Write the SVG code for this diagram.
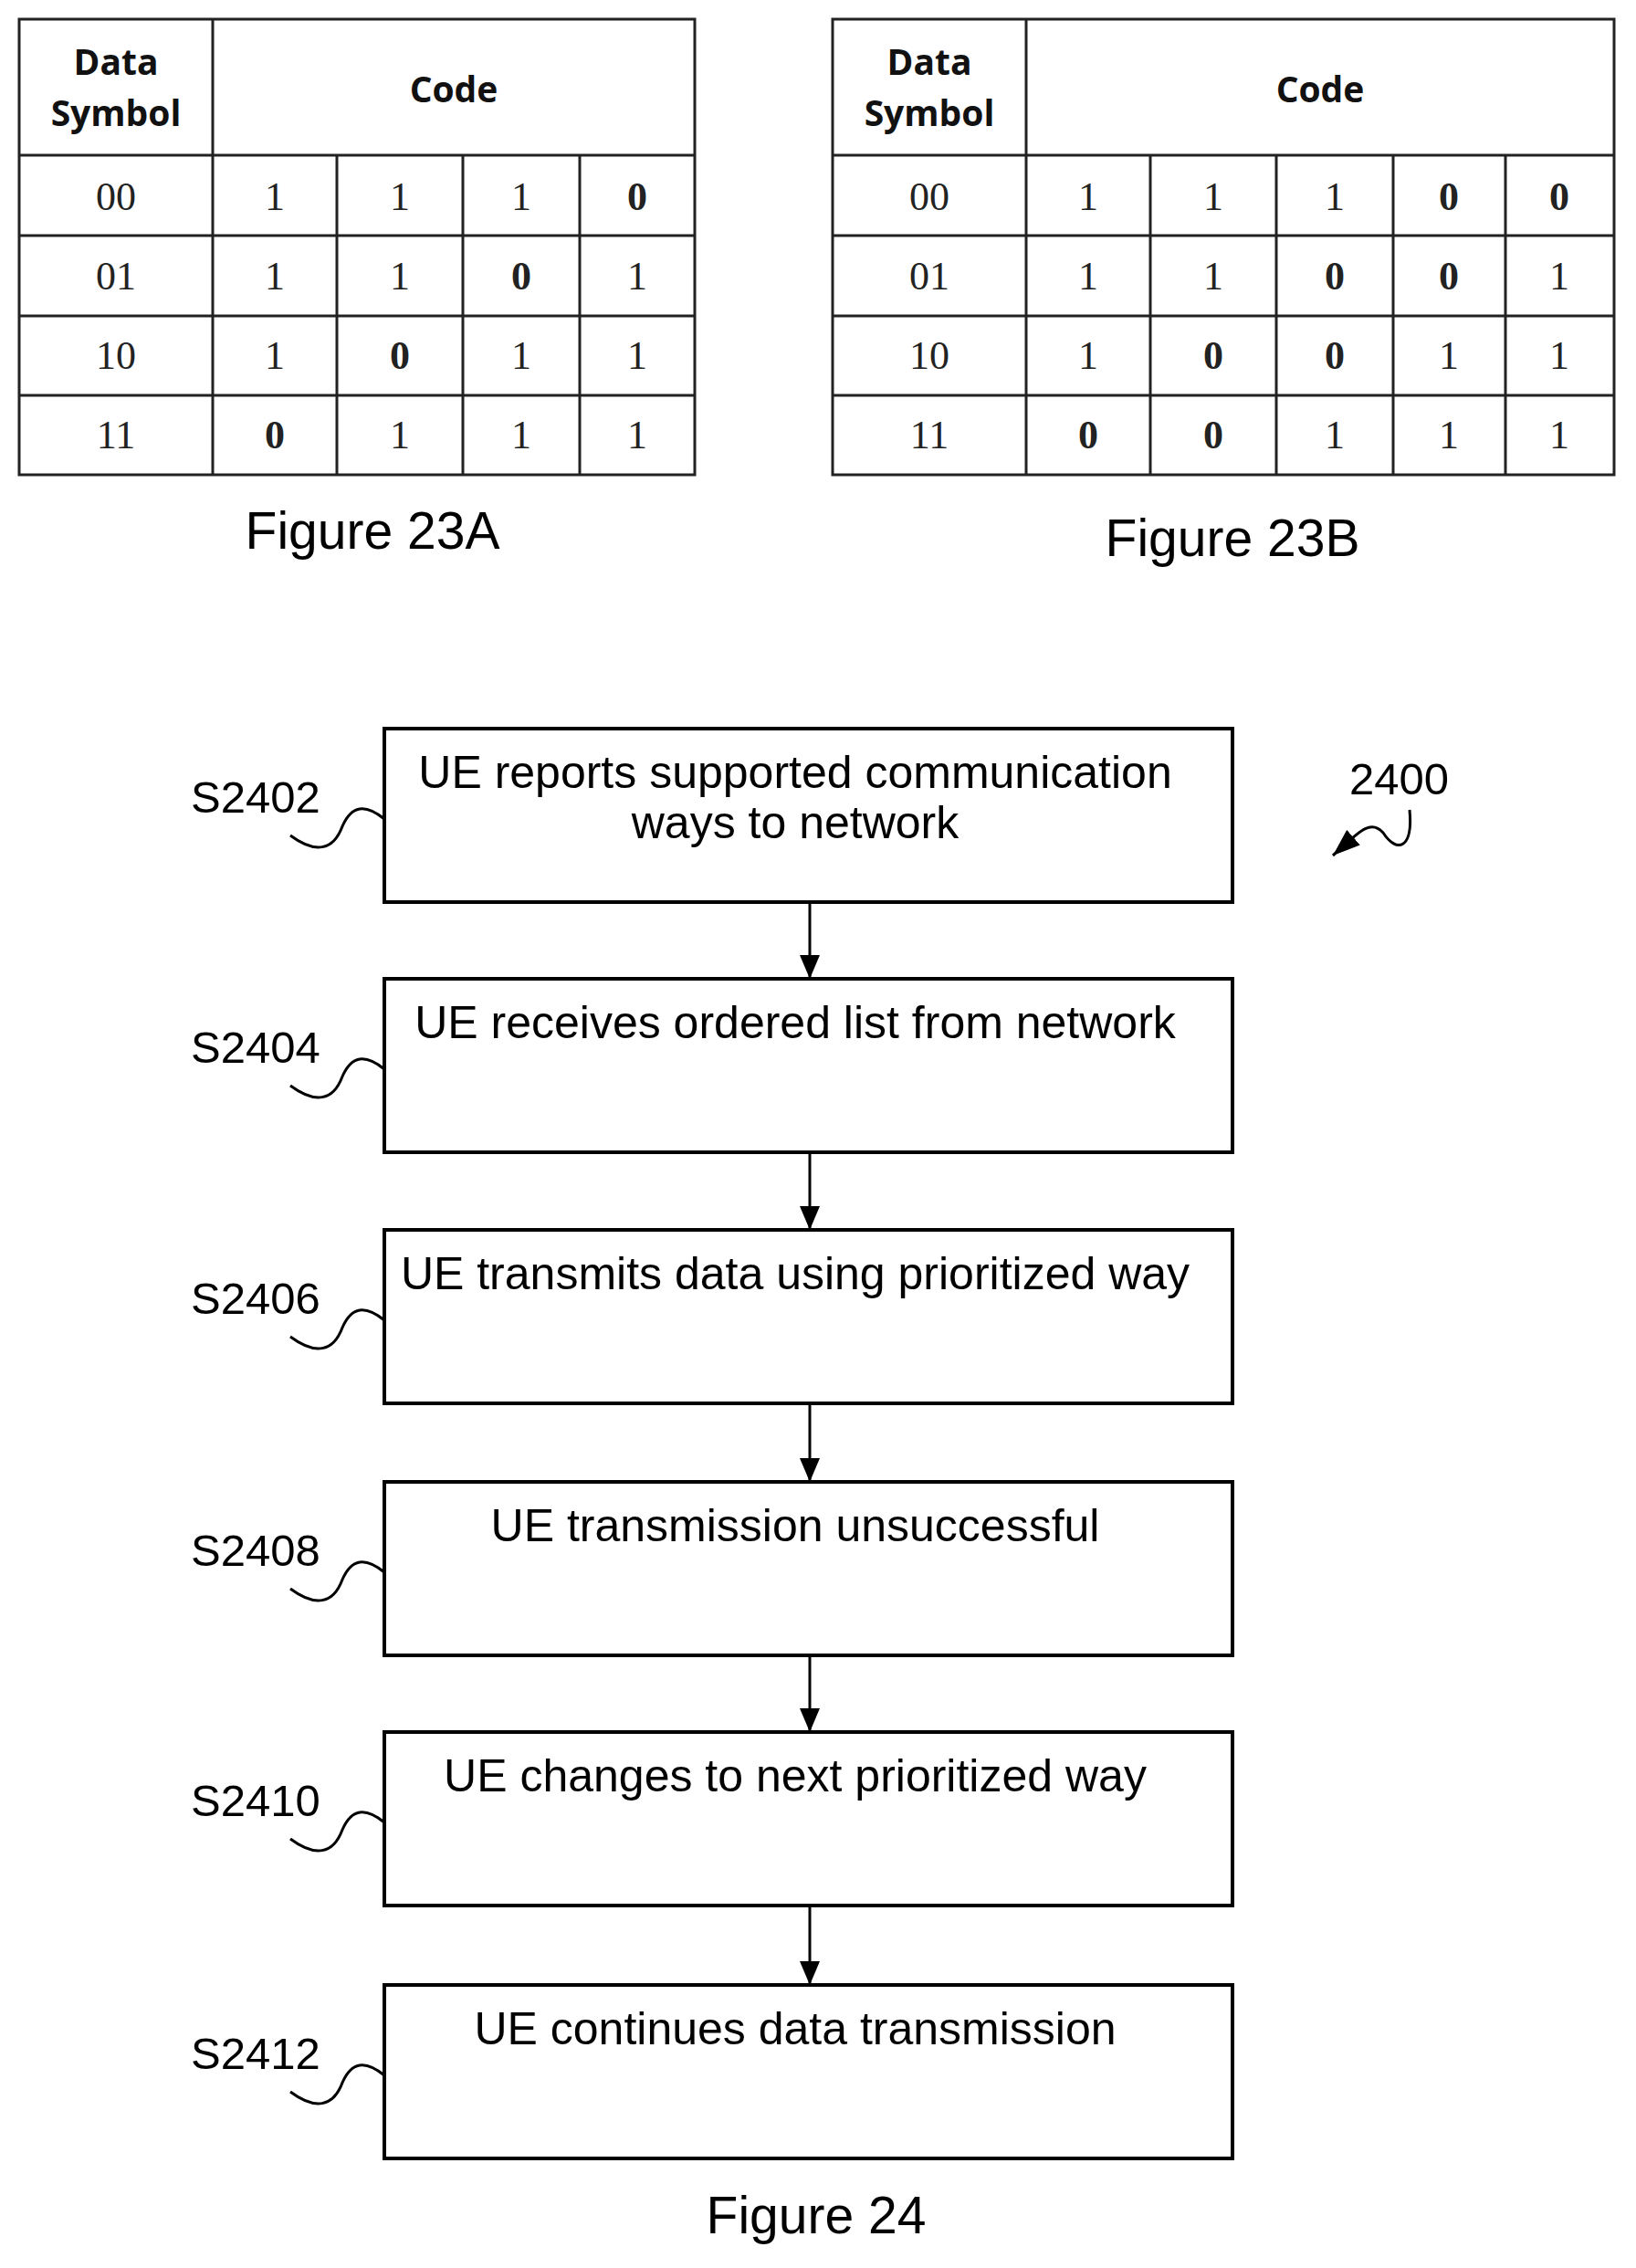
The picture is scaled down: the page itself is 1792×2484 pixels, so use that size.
<svg xmlns="http://www.w3.org/2000/svg" width="1792" height="2484" viewBox="0 0 1792 2484">
<style>
.bg{fill:#fff}
.tl{stroke:#222;stroke-width:3;fill:none}
.hd{font-family:"Open Sans","Liberation Sans",sans-serif;font-weight:bold;font-size:39px;text-anchor:middle;fill:#111}
.nm{font-family:"Liberation Serif",serif;font-size:44px;text-anchor:middle;fill:#222}
.b{font-weight:bold}
.cap{font-family:"Liberation Sans",Arial,sans-serif;font-size:57px;text-anchor:middle;fill:#000}
.box{fill:#fff;stroke:#000;stroke-width:4}
.tx{font-family:"Liberation Sans",Arial,sans-serif;font-size:50px;text-anchor:middle;fill:#000}
.lb{font-family:"Liberation Sans",Arial,sans-serif;font-size:49px;fill:#000}
.ln{stroke:#000;stroke-width:3;fill:none}
</style>
<defs>
<marker id="ah" viewBox="0 0 10 10" refX="10" refY="5" markerWidth="26" markerHeight="22" markerUnits="userSpaceOnUse" orient="auto" preserveAspectRatio="none"><path d="M0,0L10,5L0,10z" fill="#000"/></marker>
<marker id="ah2" viewBox="0 0 10 10" refX="10" refY="5" markerWidth="30" markerHeight="22" markerUnits="userSpaceOnUse" orient="auto" preserveAspectRatio="none"><path d="M0,0L10,5L0,10z" fill="#000"/></marker>
</defs>
<rect class="bg" width="1792" height="2484"/>
<g id="table23A">
<rect class="tl" x="21" y="21" width="740" height="499"/>
<path class="tl" d="M233,21V520M369,170V520M507,170V520M635,170V520M21,170H761M21,258H761M21,346H761M21,433H761"/>
<text class="hd" x="127" y="82">Data</text>
<text class="hd" x="127" y="138">Symbol</text>
<text class="hd" x="497" y="112">Code</text>
<g class="nm">
<text x="127" y="230">00</text><text x="301" y="230">1</text><text x="438" y="230">1</text><text x="571" y="230">1</text><text class="b" x="698" y="230">0</text>
<text x="127" y="317">01</text><text x="301" y="317">1</text><text x="438" y="317">1</text><text class="b" x="571" y="317">0</text><text x="698" y="317">1</text>
<text x="127" y="404">10</text><text x="301" y="404">1</text><text class="b" x="438" y="404">0</text><text x="571" y="404">1</text><text x="698" y="404">1</text>
<text x="127" y="491">11</text><text class="b" x="301" y="491">0</text><text x="438" y="491">1</text><text x="571" y="491">1</text><text x="698" y="491">1</text>
</g>
<text class="cap" x="408" y="601">Figure 23A</text>
</g>
<g id="table23B">
<rect class="tl" x="912" y="21" width="856" height="499"/>
<path class="tl" d="M1124,21V520M1260,170V520M1398,170V520M1526,170V520M1649,170V520M912,170H1768M912,258H1768M912,346H1768M912,433H1768"/>
<text class="hd" x="1018" y="82">Data</text>
<text class="hd" x="1018" y="138">Symbol</text>
<text class="hd" x="1446" y="112">Code</text>
<g class="nm">
<text x="1018" y="230">00</text><text x="1192" y="230">1</text><text x="1329" y="230">1</text><text x="1462" y="230">1</text><text class="b" x="1587" y="230">0</text><text class="b" x="1708" y="230">0</text>
<text x="1018" y="317">01</text><text x="1192" y="317">1</text><text x="1329" y="317">1</text><text class="b" x="1462" y="317">0</text><text class="b" x="1587" y="317">0</text><text x="1708" y="317">1</text>
<text x="1018" y="404">10</text><text x="1192" y="404">1</text><text class="b" x="1329" y="404">0</text><text class="b" x="1462" y="404">0</text><text x="1587" y="404">1</text><text x="1708" y="404">1</text>
<text x="1018" y="491">11</text><text class="b" x="1192" y="491">0</text><text class="b" x="1329" y="491">0</text><text x="1462" y="491">1</text><text x="1587" y="491">1</text><text x="1708" y="491">1</text>
</g>
<text class="cap" x="1350" y="609">Figure 23B</text>
</g>
<g id="connectors">
<path class="ln" d="M887,988V1072" marker-end="url(#ah)"/>
<path class="ln" d="M887,1262V1347" marker-end="url(#ah)"/>
<path class="ln" d="M887,1537V1623" marker-end="url(#ah)"/>
<path class="ln" d="M887,1813V1897" marker-end="url(#ah)"/>
<path class="ln" d="M887,2087V2174" marker-end="url(#ah)"/>
<path class="ln" d="M1544,887C1548,930 1530,935 1515,912C1500,895 1485,915 1460,937" marker-end="url(#ah2)"/>
</g>
<g id="s2402"><rect class="box" x="421" y="798" width="929" height="190"/><text class="tx" x="871" y="863">UE reports supported communication</text><text class="tx" x="871" y="918">ways to network</text><text class="lb" x="209" y="890">S2402</text><path class="ln" d="M421,897C400,880 385,882 375,905C365,932 345,935 318,915"/></g>
<g id="s2404"><rect class="box" x="421" y="1072" width="929" height="190"/><text class="tx" x="871" y="1137">UE receives ordered list from network</text><text class="lb" x="209" y="1164">S2404</text><path class="ln" d="M421,1171C400,1154 385,1156 375,1179C365,1206 345,1209 318,1189"/></g>
<g id="s2406"><rect class="box" x="421" y="1347" width="929" height="190"/><text class="tx" x="871" y="1412">UE transmits data using prioritized way</text><text class="lb" x="209" y="1439">S2406</text><path class="ln" d="M421,1446C400,1429 385,1431 375,1454C365,1481 345,1484 318,1464"/></g>
<g id="s2408"><rect class="box" x="421" y="1623" width="929" height="190"/><text class="tx" x="871" y="1688">UE transmission unsuccessful</text><text class="lb" x="209" y="1715">S2408</text><path class="ln" d="M421,1722C400,1705 385,1707 375,1730C365,1757 345,1760 318,1740"/></g>
<g id="s2410"><rect class="box" x="421" y="1897" width="929" height="190"/><text class="tx" x="871" y="1962">UE changes to next prioritized way</text><text class="lb" x="209" y="1989">S2410</text><path class="ln" d="M421,1996C400,1979 385,1981 375,2004C365,2031 345,2034 318,2014"/></g>
<g id="s2412"><rect class="box" x="421" y="2174" width="929" height="190"/><text class="tx" x="871" y="2239">UE continues data transmission</text><text class="lb" x="209" y="2266">S2412</text><path class="ln" d="M421,2273C400,2256 385,2258 375,2281C365,2308 345,2311 318,2291"/></g>
<text class="lb" x="1478" y="870">2400</text>
<text class="cap" x="894" y="2446">Figure 24</text>
</svg>
